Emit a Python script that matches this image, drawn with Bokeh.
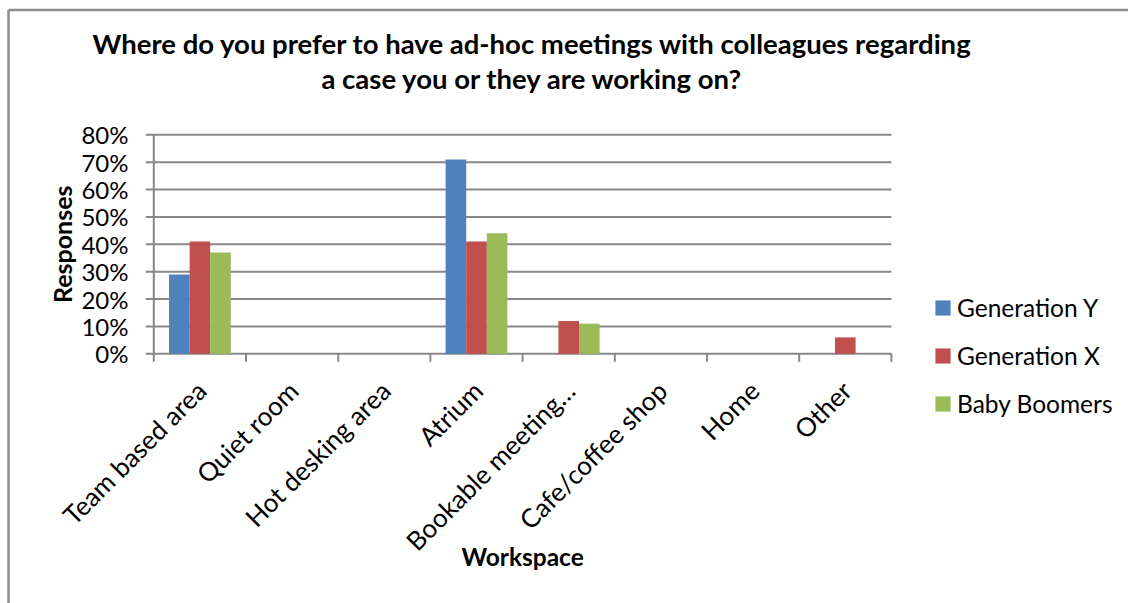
import numpy as np
from bokeh.plotting import figure
from bokeh.models import Range1d, Legend, LegendItem, ColumnDataSource
from bokeh.core.properties import value
from bokeh.embed import file_html
from bokeh.resources import INLINE

# ---------------- data ----------------
categories = ["Team based area", "Quiet room", "Hot desking area", "Atrium",
              "Bookable meeting\u2026", "Cafe/coffee shop", "Home", "Other"]
series = ["Generation Y", "Generation X", "Baby Boomers"]
gen_y = [29, 0, 0, 71, 0, 0, 0, 0]
gen_x = [41, 0, 0, 41, 12, 0, 0, 6]
boomers = [37, 0, 0, 44, 11, 0, 0, 0]
y_ticks = [0, 10, 20, 30, 40, 50, 60, 70, 80]
y_tick_labels = ["0%", "10%", "20%", "30%", "40%", "50%", "60%", "70%", "80%"]
title_lines = ["Where do you prefer to have ad-hoc meetings with colleagues regarding",
               "a case you or they are working on?"]
x_title = "Workspace"
y_title = "Responses"

# ---------------- style / layout ----------------
colors = ["#4F81BD", "#C0504D", "#9BBB59"]
GRAY = "#878787"
FONT = "Lato"
W, H = 1128, 603
PX_X0, UX = 153.3, 92.2        # pixel of x=0, pixels per category
PX_Y0, UY = 353.3, 2.7375      # pixel of 0 %, pixels per percent


def sx(px):
    return (px - PX_X0) / UX


def sy(py):
    return (PX_Y0 - py) / UY


n = len(categories)
bar_w = 0.2234
centers = np.arange(n) + 0.5
ymax = y_ticks[-1]

p = figure(width=W, height=H, output_backend="svg", toolbar_location=None,
           x_range=Range1d(sx(0), sx(W)), y_range=Range1d(sy(H), sy(0)),
           x_axis_location=None, y_axis_location=None, title=None,
           min_border=0)
p.grid.visible = False
p.outline_line_color = None
p.background_fill_color = "white"
p.border_fill_color = "white"

# chart-area border (top and left)
p.segment(x0=[sx(8), sx(8)], y0=[sy(9.5), sy(9.5)], x1=[sx(W), sx(8)], y1=[sy(9.5), sy(H)],
          line_color="#8c8c8c", line_width=2.5)

# gridlines + y tick marks
p.segment(x0=sx(PX_X0 - 8), x1=n, y0=y_ticks, y1=y_ticks, line_color=GRAY, line_width=2)
# y axis line
p.segment(x0=[0], x1=[0], y0=[0], y1=[ymax], line_color=GRAY, line_width=2)
# x tick marks at category boundaries
bounds = list(range(n + 1))
p.segment(x0=bounds, x1=bounds, y0=0, y1=sy(PX_Y0 + 8), line_color=GRAY, line_width=2)

# bars
renderers = []
for k, (vals, col) in enumerate(zip([gen_y, gen_x, boomers], colors)):
    src = ColumnDataSource(dict(x=centers + (k - 1) * bar_w, top=vals))
    r = p.vbar(x="x", top="top", bottom=0, width=bar_w, source=src,
               fill_color=col, line_color=None)
    renderers.append(r)

# y tick labels
p.text(x=sx(128), y=y_ticks, text=y_tick_labels, text_font=value(FONT),
       text_font_size=value("24px"), text_align="right", text_baseline="middle",
       text_color="black")
# x tick labels (rotated 45 deg)
p.text(x=centers - 10 / UX, y=sy(374), text=categories, text_font=value(FONT),
       text_font_size=value("26px"), text_align="right", text_baseline="top",
       angle=np.pi / 4, text_color="black")
# axis titles
p.text(x=[sx(61)], y=[ymax / 2], text=[y_title], text_font=value(FONT),
       text_font_size=value("25px"), text_font_style="bold", text_align="center",
       text_baseline="middle", angle=np.pi / 2, text_color="black")
p.text(x=[n / 2], y=[sy(556)], text=[x_title], text_font=value(FONT),
       text_font_size=value("24.5px"), text_font_style="bold", text_align="center",
       text_baseline="middle", text_color="black")
# chart title
p.text(x=[sx(532), sx(532)], y=[sy(43), sy(78)], text=title_lines, text_font=value(FONT),
       text_font_size=value("27.5px"), text_font_style="bold", text_align="center",
       text_baseline="middle", text_color="black")

legend = Legend(items=[LegendItem(label=s, renderers=[r]) for s, r in zip(series, renderers)],
                location=(933, 185), orientation="vertical", padding=0, margin=0,
                spacing=18, glyph_width=19, glyph_height=19, label_standoff=5,
                label_height=30, label_text_font=FONT, label_text_font_size="24.5px",
                label_text_color="black", border_line_color=None,
                background_fill_alpha=0)
p.add_layout(legend, "center")

open("out.html", "w").write(file_html(p, INLINE))
